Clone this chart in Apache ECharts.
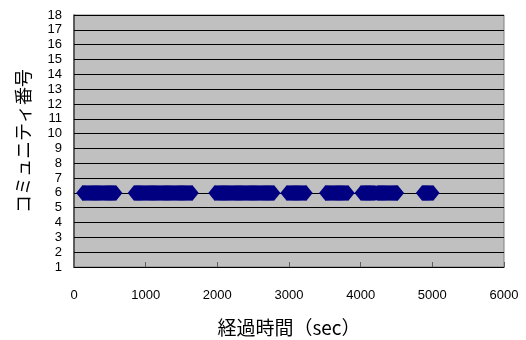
<!DOCTYPE html>
<html>
<head>
<meta charset="utf-8">
<script src="https://cdn.jsdelivr.net/npm/echarts@6/dist/echarts.min.js"></script>
<style>
  html, body { margin: 0; padding: 0; background: #fff; }
  #chart { width: 526px; height: 340px; }
</style>
</head>
<body>
<div id="chart"></div>
<script>
// Elapsed times (sec, 15 s sampling) at which community No.6 was observed, grouped by run
const run1 = [120, 135, 150, 165, 180, 195, 210, 225, 240, 255, 270, 285, 300, 315, 330, 345, 360, 375, 390,
              405, 420, 435, 450, 465, 480, 495, 510, 525, 540, 555, 570, 585];
const run2 = [840, 855, 870, 885, 900, 915, 930, 945, 960, 975, 990, 1005, 1020, 1035, 1050, 1065, 1080, 1095,
              1110, 1125, 1140, 1155, 1170, 1185, 1200, 1215, 1230, 1245, 1260, 1275, 1290, 1305, 1320, 1335,
              1350, 1365, 1380, 1395, 1410, 1425, 1440, 1455, 1470, 1485, 1500, 1515, 1530, 1545, 1560, 1575,
              1590, 1605, 1620, 1635, 1650];
const run3 = [1965, 1980, 1995, 2010, 2025, 2040, 2055, 2070, 2085, 2100, 2115, 2130, 2145, 2160, 2175, 2190,
              2205, 2220, 2235, 2250, 2265, 2280, 2295, 2310, 2325, 2340, 2355, 2370, 2385, 2400, 2415, 2430,
              2445, 2460, 2475, 2490, 2505, 2520, 2535, 2550, 2565, 2580, 2595, 2610, 2625, 2640, 2655, 2670,
              2685, 2700, 2715, 2730, 2745, 2760, 2775, 2790];
const run4 = [2970, 2985, 3000, 3015, 3030, 3045, 3060, 3075, 3090, 3105, 3120, 3135, 3150, 3165, 3180, 3195,
              3210, 3225, 3240];
const run5 = [3510, 3525, 3540, 3555, 3570, 3585, 3600, 3615, 3630, 3645, 3660, 3675, 3690, 3705, 3720, 3735,
              3750, 3765, 3780, 3795, 3810, 3825];
const run6 = [4005, 4020, 4035, 4050, 4065, 4080, 4095, 4110, 4125, 4140, 4155, 4170, 4185, 4200];
const run7 = [4230, 4245, 4260, 4275, 4290, 4305, 4320, 4335, 4350, 4365, 4380, 4395, 4410, 4425, 4440, 4455,
              4470, 4485, 4500, 4515];
const run8 = [4860, 4875, 4890, 4905, 4920, 4935, 4950, 4965, 4980, 4995, 5010];
const communityNo = 6;

const xTicks = [0, 1000, 2000, 3000, 4000, 5000, 6000];
const yMin = 1, yMax = 18;

const times = [].concat(run1, run2, run3, run4, run5, run6, run7, run8);
const points = times.map(t => [t, communityNo]);

const chart = echarts.init(document.getElementById('chart'), null, { renderer: 'canvas' });
const labelFont = { fontFamily: 'Liberation Sans, Arial, sans-serif', fontSize: 13, color: '#000' };

chart.setOption({
  animation: false,
  grid: {
    left: 74, right: 22, top: 15, bottom: 73,
    outerBoundsMode: 'none',
    containLabel: false,
    show: true,
    backgroundColor: '#c0c0c0',
    borderColor: '#808080',
    borderWidth: 1
  },
  xAxis: {
    type: 'value',
    min: xTicks[0],
    max: xTicks[xTicks.length - 1],
    interval: 1000,
    name: '経過時間（sec）',
    nameLocation: 'middle',
    nameGap: 51,
    nameTextStyle: { fontFamily: 'Noto Sans CJK JP', fontSize: 19, color: '#000' },
    axisLine: { show: true, lineStyle: { color: '#000', width: 1 } },
    axisTick: { show: true, inside: true, length: 5, lineStyle: { color: '#606060' } },
    axisLabel: Object.assign({ margin: 22, formatter: v => String(v) }, labelFont),
    splitLine: { show: false }
  },
  yAxis: {
    type: 'value',
    min: yMin,
    max: yMax,
    interval: 1,
    name: 'コミュニティ番号',
    nameLocation: 'middle',
    nameGap: 42,
    nameRotate: 90,
    nameTextStyle: { fontFamily: 'Noto Sans CJK JP', fontSize: 18, color: '#000' },
    axisLine: { show: true, lineStyle: { color: '#404040', width: 1.5 } },
    axisTick: { show: true, inside: true, length: 3, lineStyle: { color: '#000' } },
    axisLabel: Object.assign({ margin: 12, formatter: v => String(v) }, labelFont),
    splitLine: { show: true, lineStyle: { color: '#000', width: 1 } }
  },
  series: [{
    type: 'scatter',
    data: points,
    symbol: 'diamond',
    symbolSize: [13, 16],
    itemStyle: { color: '#000080', opacity: 1 }
  }]
});
</script>
</body>
</html>
